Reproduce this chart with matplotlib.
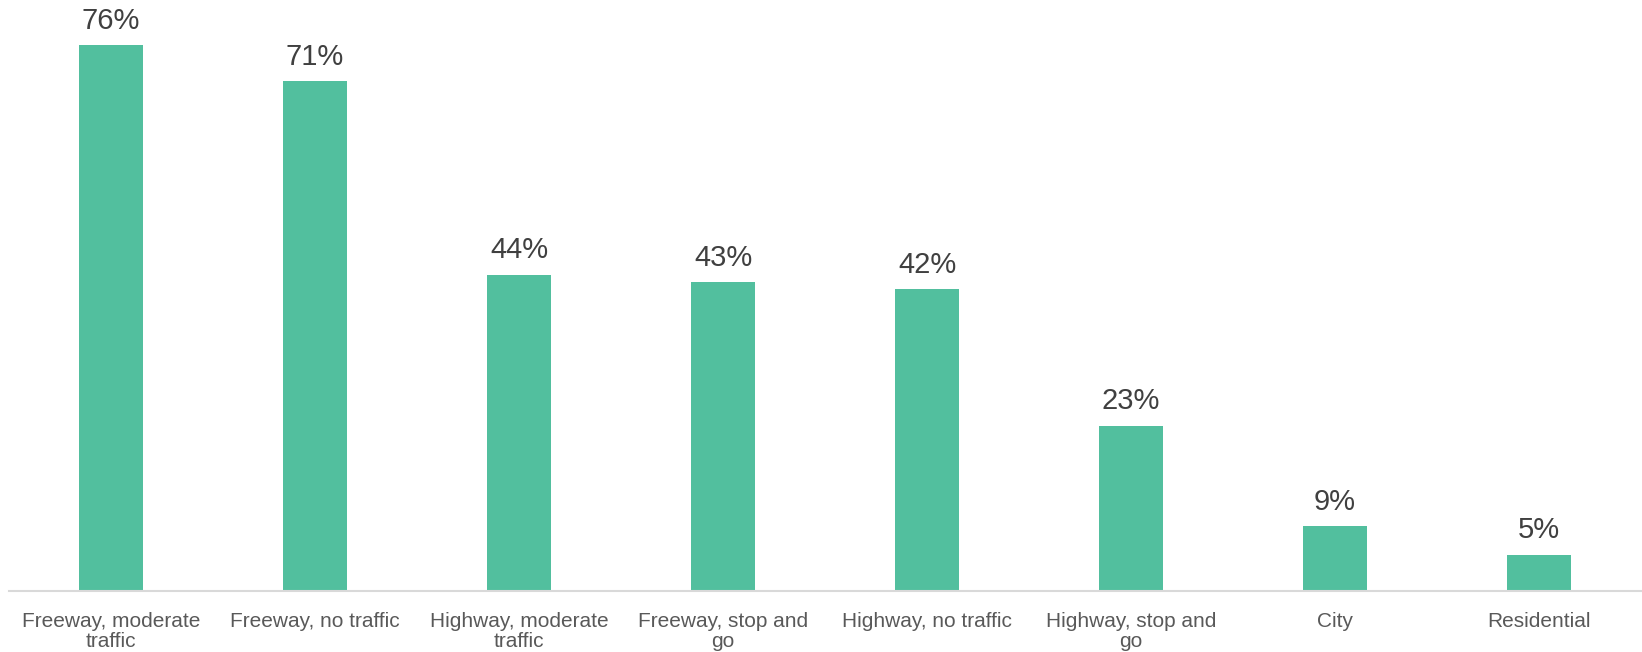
import matplotlib.pyplot as plt

categories = ["Freeway, moderate\ntraffic", "Freeway, no traffic", "Highway, moderate\ntraffic",
              "Freeway, stop and\ngo", "Highway, no traffic", "Highway, stop and\ngo",
              "City", "Residential"]
shares = [76, 71, 44, 43, 42, 23, 9, 5]

plt.rcParams['font.family'] = ['Liberation Sans', 'DejaVu Sans']

fig = plt.figure(figsize=(16.42, 6.52), dpi=100)
ax = fig.add_axes([9 / 1642, 61 / 652, 1632 / 1642, 574.4 / 652])

x = range(len(shares))
bars = ax.bar(x, shares, width=0.314, color="#52bf9e")

for rect, v in zip(bars, shares):
    ax.annotate(f"{v}%", (rect.get_x() + rect.get_width() / 2, v),
                xytext=(0, 12), textcoords="offset points",
                ha="center", va="baseline", fontsize=21, color="#404040")

ax.set_xlim(-0.5, len(shares) - 0.5)
ax.set_ylim(0, 80)
ax.set_xticks(list(x))
ax.set_xticklabels(categories, fontsize=15, color="#595959", linespacing=1.08)
ax.tick_params(axis="x", length=0, pad=15)
ax.set_yticks([])

for side in ["top", "right", "left"]:
    ax.spines[side].set_visible(False)
ax.spines["bottom"].set_color("#d9d9d9")
ax.spines["bottom"].set_linewidth(1.5)

fig.savefig("out.png", dpi=100)
